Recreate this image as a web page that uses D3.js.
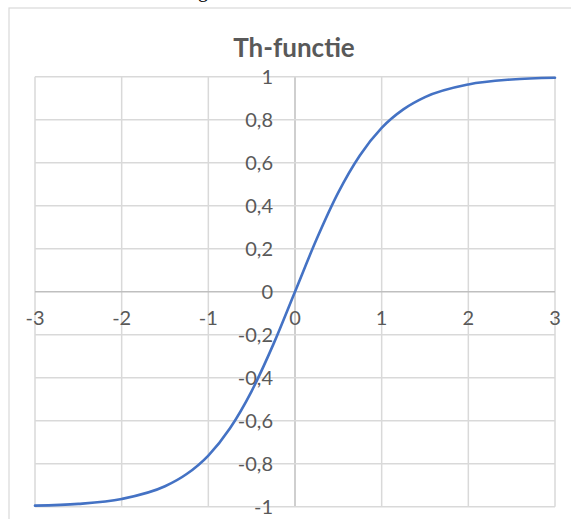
<!DOCTYPE html>
<html>
<head>
<meta charset="utf-8">
<script src="https://cdn.jsdelivr.net/npm/d3@7"></script>
<style>
  body { margin: 0; background: #fff; }
  svg { display: block; }
  text { font-family: Lato, "Open Sans", sans-serif; fill: #595959; }
</style>
</head>
<body>
<svg id="chart" width="571" height="519"></svg>
<script>
// values
var xValues = [-3, -2.5, -2, -1.5, -1.25, -1, -0.75, -0.5, -0.25, 0, 0.25, 0.5, 0.75, 1, 1.25, 1.5, 2, 2.5, 3];
var yValues = [-0.995, -0.987, -0.964, -0.905, -0.848, -0.762, -0.635, -0.462, -0.245, 0, 0.245, 0.462, 0.635, 0.762, 0.848, 0.905, 0.964, 0.987, 0.995];
var xTicks = [-3, -2, -1, 0, 1, 2, 3];
var yTicks = [-1, -0.8, -0.6, -0.4, -0.2, 0, 0.2, 0.4, 0.6, 0.8, 1];
var title = "Th-functie";

var svg = d3.select("#chart");

var x = d3.scaleLinear().domain([-3, 3]).range([35, 555]);
var y = d3.scaleLinear().domain([-1, 1]).range([506.7, 76.7]);

// chart frame (partly outside the window)
svg.append("rect")
  .attr("x", 9).attr("y", 8)
  .attr("width", 600).attr("height", 600)
  .attr("fill", "none")
  .attr("stroke", "#d9d9d9")
  .attr("stroke-width", 1.2);

// bit of the page text above the chart
svg.append("text")
  .attr("x", 198).attr("y", -3)
  .style("font-family", "'Liberation Serif', serif")
  .style("font-size", "20px")
  .style("fill", "#000")
  .text("g");

// grid
svg.append("g").selectAll("line.v")
  .data(xTicks)
  .enter().append("line")
  .attr("x1", function(d) { return x(d); })
  .attr("x2", function(d) { return x(d); })
  .attr("y1", y(1)).attr("y2", y(-1))
  .attr("stroke", function(d) { return d === 0 ? "#bfbfbf" : "#d9d9d9"; })
  .attr("stroke-width", 1.5);

svg.append("g").selectAll("line.h")
  .data(yTicks)
  .enter().append("line")
  .attr("x1", x(-3)).attr("x2", x(3))
  .attr("y1", function(d) { return y(d); })
  .attr("y2", function(d) { return y(d); })
  .attr("stroke", function(d) { return d === 0 ? "#bfbfbf" : "#d9d9d9"; })
  .attr("stroke-width", 1.5);

var fmt = function(d) { return String(+d.toFixed(1)).replace(".", ","); };

// x labels under the horizontal axis
svg.append("g").selectAll("text")
  .data(xTicks)
  .enter().append("text")
  .attr("x", function(d) { return x(d); })
  .attr("y", y(0) + 33)
  .attr("text-anchor", "middle")
  .style("font-size", "20px")
  .text(fmt);

// y labels left of the vertical axis
svg.append("g").selectAll("text")
  .data(yTicks)
  .enter().append("text")
  .attr("x", x(0) - 22)
  .attr("y", function(d) { return y(d); })
  .attr("dy", "0.36em")
  .attr("text-anchor", "end")
  .style("font-size", "20px")
  .text(fmt);

// curve
var pts = xValues.map(function(v, i) { return [v, yValues[i]]; });
var line = d3.line()
  .x(function(d) { return x(d[0]); })
  .y(function(d) { return y(d[1]); })
  .curve(d3.curveMonotoneX);

svg.append("path")
  .datum(pts)
  .attr("d", line)
  .attr("fill", "none")
  .attr("stroke", "#4472c4")
  .attr("stroke-width", 2.6)
  .attr("stroke-linecap", "round");

svg.append("text")
  .attr("x", 294).attr("y", 57)
  .attr("text-anchor", "middle")
  .style("font-size", "26px")
  .style("font-weight", "bold")
  .text(title);
</script>
</body>
</html>
